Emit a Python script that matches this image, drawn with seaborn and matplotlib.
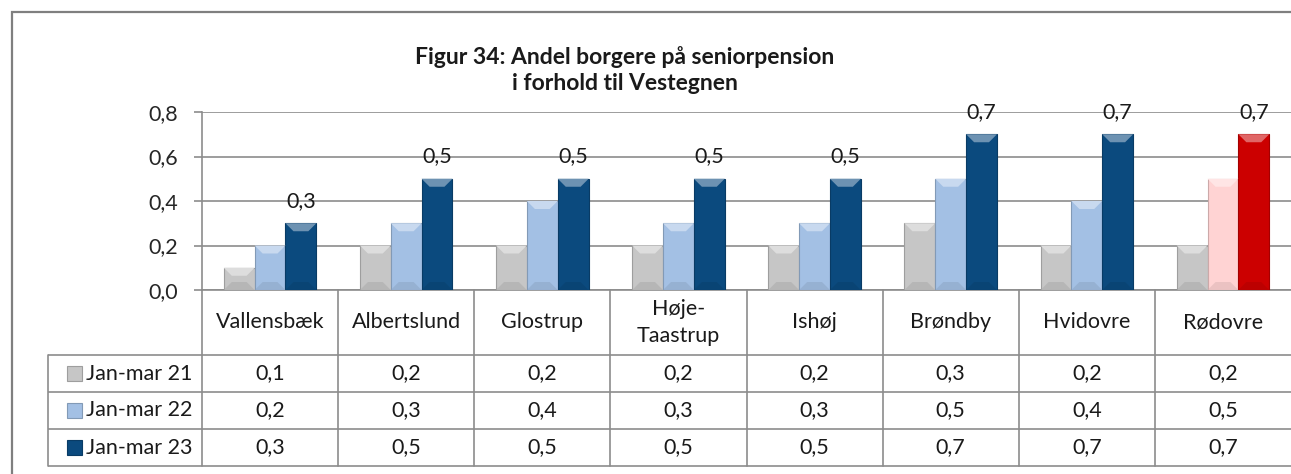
import matplotlib
matplotlib.use("Agg")
import matplotlib.pyplot as plt
import matplotlib.colors as mcolors
from matplotlib.patches import Rectangle, Polygon
import seaborn as sns
import pandas as pd
import numpy as np

# Data: share of citizens on senior pension (seniorpension), per municipality
kommuner = ["Vallensbæk", "Albertslund", "Glostrup", "Høje-\nTaastrup", "Ishøj",
            "Brøndby", "Hvidovre", "Rødovre"]
perioder = ["Jan-mar 21", "Jan-mar 22", "Jan-mar 23"]
jan_mar_21 = [0.1, 0.2, 0.2, 0.2, 0.2, 0.3, 0.2, 0.2]
jan_mar_22 = [0.2, 0.3, 0.4, 0.3, 0.3, 0.5, 0.4, 0.5]
jan_mar_23 = [0.3, 0.5, 0.5, 0.5, 0.5, 0.7, 0.7, 0.7]
titel = "Figur 34: Andel borgere på seniorpension\ni forhold til Vestegnen"
yticks = [0.0, 0.2, 0.4, 0.6, 0.8]
fremhaevet = "Rødovre"

# Colours
farver = ["#c6c6c6", "#a3c0e4", "#0b4a7e"]
fremhaevet_farver = ["#c6c6c6", "#ffd3d3", "#cc0000"]
linje = "#8c8c8c"
FS = 15.5

def komma(v):
    return f"{v:.1f}".replace(".", ",")

df = pd.DataFrame({
    "Kommune": kommuner * 3,
    "Periode": np.repeat(perioder, len(kommuner)),
    "Andel": jan_mar_21 + jan_mar_22 + jan_mar_23,
})

sns.set_theme(style="white")
plt.rcParams["font.family"] = ["Lato", "DejaVu Sans"]
plt.rcParams["text.color"] = "#1a1a1a"

W, H = 1291, 474
fig = plt.figure(figsize=(W / 100, H / 100), dpi=100)

def fx(px):
    return px / W

def fy(py):
    return 1 - py / H

# Chart frame
fig.patches.append(Rectangle((fx(12), -0.05), 1.1, fy(12) + 0.05,
                             transform=fig.transFigure, fill=False,
                             edgecolor="#7f7f7f", linewidth=1.6))

ax = fig.add_axes([fx(202), fy(290), fx(1291) - fx(202), (290 - 112) / H])
sns.barplot(data=df, x="Kommune", y="Andel", hue="Periode", hue_order=perioder,
            order=kommuner, palette=farver, saturation=1, width=0.68,
            legend=False, ax=ax, edgecolor="none", linewidth=0, zorder=3)

# Highlighted municipality in red tones
hi = kommuner.index(fremhaevet)
for s, cont in enumerate(ax.containers):
    cont.patches[hi].set_facecolor(fremhaevet_farver[s])

ax.set_ylim(0, 0.8)
ax.set_xlim(-0.5, len(kommuner) - 0.5)

# Bevel effect on the bars (lighter top, darker bottom)
fig.canvas.draw()
inv = ax.transData.inverted()
def px_to_data(dx, dy):
    p0 = inv.transform((0, 0))
    p1 = inv.transform((dx, dy))
    return p1[0] - p0[0], p1[1] - p0[1]

bx, by = px_to_data(8, 8)
for cont in ax.containers:
    for p in cont.patches:
        x, w, h = p.get_x(), p.get_width(), p.get_height()
        c = np.array(mcolors.to_rgb(p.get_facecolor()))
        light = c + (1 - c) * 0.4
        dark = c * 0.85
        top = Polygon([(x, h), (x + w, h), (x + w - bx, h - by), (x + bx, h - by)],
                      closed=True, facecolor=light, edgecolor="none", zorder=4)
        bot = Polygon([(x, 0), (x + w, 0), (x + w - bx, by), (x + bx, by)],
                      closed=True, facecolor=dark, edgecolor="none", zorder=4, alpha=0.5)
        ax.add_patch(top)
        ax.add_patch(bot)
        p.set_edgecolor(tuple(c * 0.8))
        p.set_linewidth(0.8)

# Value labels on the latest period
ax.bar_label(ax.containers[2], labels=[komma(v) for v in jan_mar_23],
             padding=9, fontsize=FS, zorder=5)

ax.set_yticks(yticks)
ax.set_yticklabels([komma(v) for v in yticks], fontsize=FS)
ax.set_xticks([])
ax.set_xlabel("")
ax.set_ylabel("")
ax.yaxis.grid(True, color=linje, linewidth=1.2, zorder=0)
ax.set_axisbelow(True)
ax.tick_params(axis="y", length=6, width=1.2, color=linje, pad=11, left=True)
for side in ["top", "right"]:
    ax.spines[side].set_visible(False)
for side in ["left", "bottom"]:
    ax.spines[side].set_color(linje)
    ax.spines[side].set_linewidth(1.2)
ax.set_facecolor("none")

# Data table below the chart
cat_w = (1291 - 202) / len(kommuner)
leg_w = (202 - 48) / cat_w
ax_t = fig.add_axes([fx(48), fy(466), fx(1291) - fx(48), (466 - 290) / H])
ax_t.set_xlim(-0.5 - leg_w, len(kommuner) - 0.5)
ax_t.set_ylim(176, 0)
ax_t.axis("off")

header_h, row_h = 65, 37
row_lines = [header_h + i * row_h for i in range(4)]
for yl in row_lines:
    ax_t.plot([-0.5 - leg_w, len(kommuner) - 0.5], [yl, yl], color=linje,
              linewidth=1.2, clip_on=False, solid_capstyle="butt")
for i in range(len(kommuner)):
    ax_t.plot([i - 0.5, i - 0.5], [0, row_lines[-1]], color=linje, linewidth=1.2,
              clip_on=False)
ax_t.plot([-0.5 - leg_w] * 2, [header_h, row_lines[-1]], color=linje,
          linewidth=1.2, clip_on=False)

for i, k in enumerate(kommuner):
    ax_t.text(i, header_h / 2, k, ha="center", va="center", fontsize=FS,
              linespacing=1.45)

serier = [jan_mar_21, jan_mar_22, jan_mar_23]
for r, (navn, vals) in enumerate(zip(perioder, serier)):
    yc = header_h + row_h * (r + 0.5)
    for i, v in enumerate(vals):
        ax_t.text(i, yc, komma(v), ha="center", va="center", fontsize=FS)
    # legend key
    kc = np.array(mcolors.to_rgb(farver[r]))
    kx = -0.5 - leg_w + (67 - 48) / cat_w
    ax_t.add_patch(Rectangle((kx, yc - 7.5), 15 / cat_w, 15, facecolor=kc,
                             edgecolor=tuple(kc * 0.8), linewidth=0.8, clip_on=False))
    ax_t.text(-0.5 - leg_w + (86 - 48) / cat_w, yc, navn, ha="left", va="center",
              fontsize=FS)

fig.text(fx(625), fy(70), titel, ha="center", va="center", fontsize=16.5,
         fontweight="bold", linespacing=1.25)

fig.savefig("out.png", dpi=100, facecolor="white")
